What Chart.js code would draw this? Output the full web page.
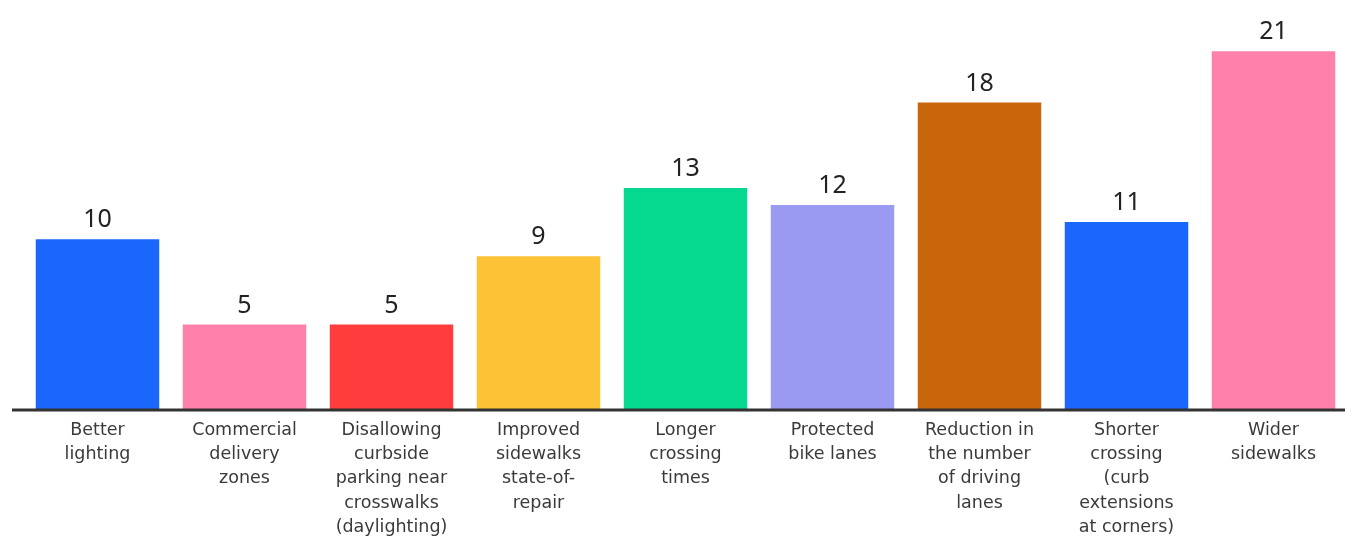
<!DOCTYPE html>
<html lang="en">
<head>
  <meta charset="UTF-8">
  <title>Street improvements</title>
  <script src="https://cdn.jsdelivr.net/npm/chart.js"></script>
  <style>
    body { margin: 0; background: #fff; }
    #wrap { width: 1353px; height: 536px; }
  </style>
</head>
<body>
  <div id="wrap">
    <canvas id="chart" width="1353" height="536"></canvas>
  </div>

<script>
  // categories (multi-line, as printed under the bars)
  const categories = [
    ['Better', 'lighting'],
    ['Commercial', 'delivery', 'zones'],
    ['Disallowing', 'curbside', 'parking near', 'crosswalks', '(daylighting)'],
    ['Improved', 'sidewalks', 'state-of-', 'repair'],
    ['Longer', 'crossing', 'times'],
    ['Protected', 'bike lanes'],
    ['Reduction in', 'the number', 'of driving', 'lanes'],
    ['Shorter', 'crossing', '(curb', 'extensions', 'at corners)'],
    ['Wider', 'sidewalks']
  ];
  const counts = [10, 5, 5, 9, 13, 12, 18, 11, 21];
  const barColors = ['#1b66fb', '#ff80aa', '#ff3d3d', '#fdc235', '#05d98f',
                     '#9a9af2', '#c9650b', '#1b66fb', '#ff80aa'];

  const FONT = '"DejaVu Sans", sans-serif';

  // numbers above each bar + the dark baseline
  const barLabels = {
    id: 'barLabels',
    afterDatasetsDraw(chart) {
      const ctx = chart.ctx;
      const meta = chart.getDatasetMeta(0);
      ctx.save();
      ctx.fillStyle = '#222';
      ctx.font = '25px "Noto Sans", sans-serif';
      ctx.textAlign = 'center';
      ctx.textBaseline = 'alphabetic';
      meta.data.forEach((bar, i) => {
        ctx.fillText(counts[i], bar.x, bar.y - 12);
      });
      // axis line
      const y = chart.chartArea.bottom;
      ctx.strokeStyle = '#333';
      ctx.lineWidth = 3;
      ctx.beginPath();
      ctx.moveTo(12, y);
      ctx.lineTo(1345, y);
      ctx.stroke();
      ctx.restore();
    }
  };

  new Chart(document.getElementById('chart'), {
    type: 'bar',
    data: {
      labels: categories,
      datasets: [{
        data: counts,
        backgroundColor: barColors,
        borderWidth: 0,
        barPercentage: 0.84,
        categoryPercentage: 1
      }]
    },
    options: {
      responsive: false,
      animation: false,
      layout: { padding: { left: 24, right: 6, top: 0, bottom: 0 } },
      plugins: {
        legend: { display: false },
        tooltip: { enabled: false }
      },
      scales: {
        x: {
          grid: { display: false },
          border: { display: false },
          afterFit: s => { s.height = 126; },
          ticks: {
            color: '#3a3a3a',
            font: { family: FONT, size: 17.5, lineHeight: 1.39 },
            padding: 0,
            maxRotation: 0,
            autoSkip: false
          }
        },
        y: {
          display: false,
          min: 0,
          max: 24
        }
      }
    },
    plugins: [barLabels]
  });
</script>
</body>
</html>
